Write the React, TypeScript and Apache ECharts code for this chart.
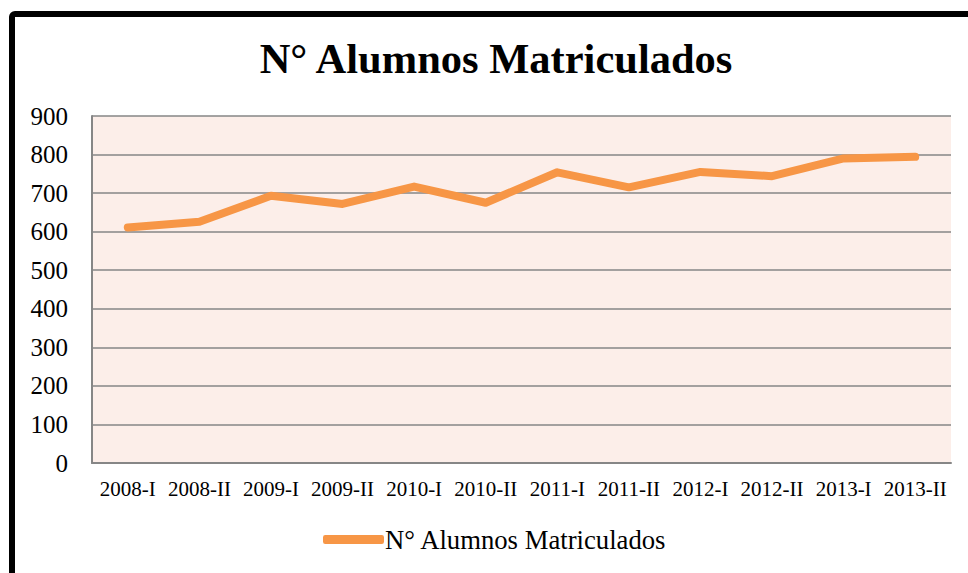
import React, { useEffect, useRef } from "react";
import * as echarts from "echarts";

const categories = [
  "2008-I", "2008-II", "2009-I", "2009-II", "2010-I", "2010-II",
  "2011-I", "2011-II", "2012-I", "2012-II", "2013-I", "2013-II",
];
const alumnos = [611, 626, 693, 672, 717, 675, 754, 715, 755, 744, 790, 794];
const seriesName = "N° Alumnos Matriculados";
const chartTitle = "N° Alumnos Matriculados";

const FONT = "Liberation Serif";

export default function App() {
  const ref = useRef<HTMLDivElement>(null);
  useEffect(() => {
    if (!ref.current) return;
    const chart = echarts.init(ref.current, null, { renderer: "svg" });
    chart.setOption({
      animation: false,
      backgroundColor: "#ffffff",
      graphic: [
        {
          type: "rect",
          shape: { x: 12, y: 14, width: 1000, height: 620, r: 3 },
          style: { fill: "none", stroke: "#000000", lineWidth: 6 },
          z: 100,
        },
        {
          type: "text",
          x: 496,
          y: 58,
          style: {
            text: chartTitle,
            fontFamily: FONT,
            fontSize: 42.5,
            fontWeight: "bold",
            fill: "#000000",
            textAlign: "center",
            textVerticalAlign: "middle",
          },
        },
      ],
      legend: {
        left: 318,
        top: 521,
        icon: "roundRect",
        itemWidth: 61,
        itemHeight: 9,
        itemGap: 10,
        textStyle: {
          fontFamily: FONT,
          fontSize: 26.7,
          color: "#000000",
          padding: [0, 0, 0, -4],
        },
        data: [seriesName],
      },
      grid: {
        left: 92,
        right: 17,
        top: 116,
        bottom: 110,
        show: true,
        backgroundColor: "#FCEEE9",
        borderWidth: 0,
        containLabel: false,
        outerBoundsMode: "none",
      },
      xAxis: {
        type: "category",
        data: categories,
        boundaryGap: true,
        axisLine: { show: true, lineStyle: { color: "#868686", width: 2 } },
        axisTick: { show: false },
        axisLabel: {
          interval: 0,
          margin: 15,
          fontFamily: FONT,
          fontSize: 21,
          color: "#000000",
        },
        splitLine: { show: false },
      },
      yAxis: {
        type: "value",
        min: 0,
        max: 900,
        interval: 100,
        axisLine: { show: true, lineStyle: { color: "#868686", width: 2 } },
        axisTick: { show: false },
        axisLabel: {
          margin: 24,
          fontFamily: FONT,
          fontSize: 25,
          color: "#000000",
        },
        splitLine: { show: true, lineStyle: { color: "#868686", width: 1.5 } },
      },
      series: [
        {
          name: seriesName,
          type: "line",
          data: alumnos,
          symbol: "none",
          lineStyle: { color: "#F79646", width: 8, cap: "round", join: "round" },
          itemStyle: { color: "#F79646" },
        },
      ],
    });
    return () => chart.dispose();
  }, []);
  return (
    <div
      ref={ref}
      style={{ position: "absolute", left: 0, top: 0, width: 968, height: 573 }}
    />
  );
}
